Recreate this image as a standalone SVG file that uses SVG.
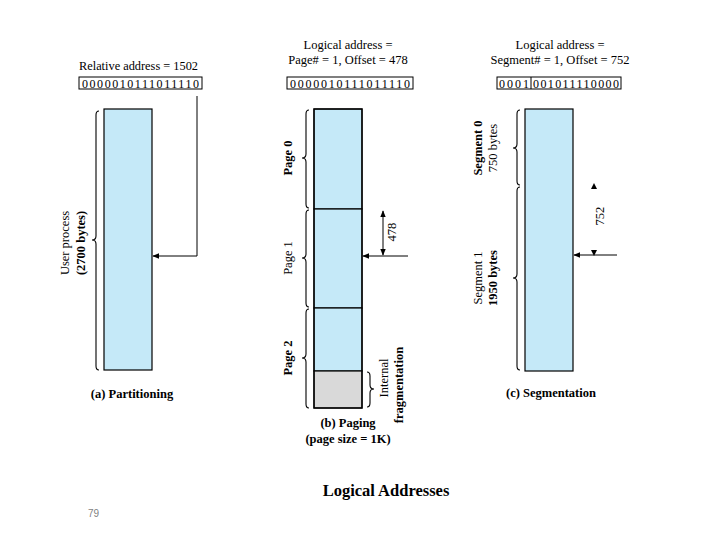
<svg xmlns="http://www.w3.org/2000/svg" width="720" height="540" viewBox="0 0 720 540">
<style>
text{font-family:"Liberation Serif","Times New Roman",serif;fill:#000}
.t{font-size:12.5px}
.b{font-weight:bold}
.bin{font-size:12px}
.mem{fill:#c5e9f8;stroke:#000;stroke-width:1.2}
.box{fill:#fff;stroke:#000;stroke-width:1}
.ln{fill:none;stroke:#000;stroke-width:1}
.br{fill:none;stroke:#000;stroke-width:1.1}
</style>
<defs>
<marker id="ah" viewBox="0 0 10 10" refX="9" refY="5" markerWidth="7" markerHeight="7" orient="auto-start-reverse" markerUnits="userSpaceOnUse">
<path d="M0,1 L10,5 L0,9 Z" fill="#000"/>
</marker>
</defs>
<rect width="720" height="540" fill="#fff"/>

<!-- Panel a -->
<g id="panel-a">
<text class="t" x="79" y="70" textLength="119" lengthAdjust="spacingAndGlyphs">Relative address = 1502</text>
<rect class="box" x="79" y="77" width="123" height="12"/>
<text class="bin" x="82" y="87.5" textLength="117" lengthAdjust="spacing">0000010111011110</text>
<rect id="user-process" class="mem" x="104" y="109" width="48" height="261"/>
<path class="br" d="M99,111 Q96,111 96,115 L96,236 Q96,240 92,240 Q96,240 96,244 L96,366 Q96,370 99,370"/>
<text class="t" transform="translate(69,243) rotate(-90)" text-anchor="middle">User process</text>
<text class="t b" transform="translate(85,243) rotate(-90)" text-anchor="middle">(2700 bytes)</text>
<text class="t b" x="132" y="398" text-anchor="middle">(a) Partitioning</text>
</g>

<!-- Panel b -->
<g id="panel-b">
<text class="t" x="348" y="49" text-anchor="middle">Logical address =</text>
<text class="t" x="348" y="64" text-anchor="middle">Page# = 1, Offset = 478</text>
<rect class="box" x="287" y="77" width="126" height="12"/>
<text class="bin" x="290" y="87.5" textLength="120" lengthAdjust="spacing">0000010111011110</text>
<rect id="page0" class="mem" x="314" y="109" width="48" height="100"/>
<rect id="page1" class="mem" x="314" y="209" width="48" height="99"/>
<rect id="page2" class="mem" x="314" y="308" width="48" height="63"/>
<rect id="frag" x="314" y="371" width="48" height="37" fill="#d9d9d9" stroke="#000" stroke-width="1.2"/>
<rect x="314" y="109" width="48" height="299" fill="none" stroke="#000" stroke-width="1.3"/>
<path class="br" d="M309,110 Q306,110 306,114 L306,154 Q306,158 302,158 Q306,158 306,162 L306,204 Q306,208 309,208"/>
<path class="br" d="M309,210 Q306,210 306,214 L306,254 Q306,258 302,258 Q306,258 306,262 L306,303 Q306,307 309,307"/>
<path class="br" d="M309,309 Q306,309 306,313 L306,354 Q306,358 302,358 Q306,358 306,362 L306,404 Q306,408 309,408"/>
<text class="t b" transform="translate(292,158) rotate(-90)" text-anchor="middle">Page 0</text>
<text class="t" transform="translate(292,258) rotate(-90)" text-anchor="middle">Page 1</text>
<text class="t b" transform="translate(292,358) rotate(-90)" text-anchor="middle">Page 2</text>
<path class="br" d="M367,372 Q370,372 370,376 L370,385 Q370,389 374,389 Q370,389 370,393 L370,403 Q370,407 367,407"/>
<text class="t" transform="translate(388,378) rotate(-90)" text-anchor="middle">Internal</text>
<text class="t b" transform="translate(403,385) rotate(-90)" text-anchor="middle">fragmentation</text>
<text class="t" transform="translate(396,232) rotate(-90)" text-anchor="middle">478</text>
<text class="t b" x="348" y="427" text-anchor="middle">(b) Paging</text>
<text class="t b" x="348" y="443" text-anchor="middle">(page size = 1K)</text>
</g>

<!-- Panel c -->
<g id="panel-c">
<text class="t" x="560" y="49" text-anchor="middle">Logical address =</text>
<text class="t" x="560" y="64" text-anchor="middle">Segment# = 1, Offset = 752</text>
<rect class="box" x="497" y="77" width="124" height="12"/>
<line class="ln" x1="531" y1="77" x2="531" y2="89"/>
<text class="bin" x="499" y="87.5" textLength="30" lengthAdjust="spacing">0001</text>
<text class="bin" x="533" y="87.5" textLength="86" lengthAdjust="spacing">001011110000</text>
<rect id="segment" class="mem" x="525" y="109" width="48" height="262"/>
<path class="br" d="M520,110 Q517,110 517,114 L517,144 Q517,148 513,148 Q517,148 517,152 L517,181 Q517,185 520,185"/>
<path class="br" d="M520,187 Q517,187 517,191 L517,274 Q517,278 513,278 Q517,278 517,282 L517,366 Q517,370 520,370"/>
<text class="t b" transform="translate(482,148) rotate(-90)" text-anchor="middle">Segment 0</text>
<text class="t" transform="translate(497,148) rotate(-90)" text-anchor="middle">750 bytes</text>
<text class="t" transform="translate(482,278) rotate(-90)" text-anchor="middle">Segment 1</text>
<text class="t b" transform="translate(497,278) rotate(-90)" text-anchor="middle">1950 bytes</text>
<path d="M591,189 L594,183 L597,189 Z" fill="#000"/>
<path d="M591,250 L594,256 L597,250 Z" fill="#000"/>
<text class="t" transform="translate(604,216) rotate(-90)" text-anchor="middle">752</text>
<text class="t b" x="551" y="397" text-anchor="middle">(c) Segmentation</text>
</g>

<!-- Connectors -->
<g id="connectors">
<path class="ln" d="M197,96 L197,256 L153,256" marker-end="url(#ah)"/>
<line class="ln" x1="383" y1="211" x2="383" y2="255" marker-start="url(#ah)" marker-end="url(#ah)"/>
<line class="ln" x1="408" y1="256" x2="363" y2="256" marker-end="url(#ah)"/>
<line class="ln" x1="617" y1="255" x2="574" y2="255" marker-end="url(#ah)"/>
</g>

<text x="386" y="496" text-anchor="middle" style="font-size:16.5px;font-weight:bold">Logical Addresses</text>
<text x="88" y="517" style="font-family:'Liberation Sans',Arial,sans-serif;font-size:10px;fill:#7f7f7f">79</text>
</svg>
